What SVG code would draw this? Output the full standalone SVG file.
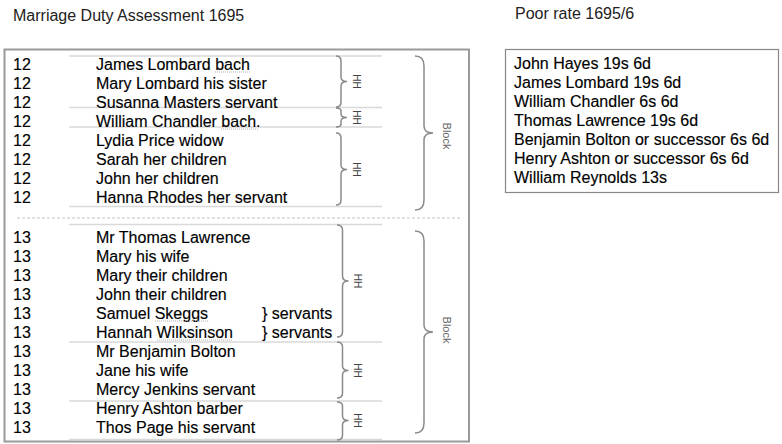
<svg xmlns="http://www.w3.org/2000/svg" width="782" height="444" viewBox="0 0 782 444">
<style>
.t{font-family:"Liberation Sans",Arial,sans-serif;font-size:16px;fill:#000;stroke:#000;stroke-width:0.15}
.ti{font-family:"Liberation Sans",Arial,sans-serif;font-size:16px;fill:#222}
.sep{stroke:#d9d9d9;stroke-width:1.5;fill:none}
.br{stroke:#8a8a8a;stroke-width:1.5;fill:none}
.hh{font-family:"Liberation Sans",Arial,sans-serif;font-size:10px;fill:#444;text-anchor:middle;dominant-baseline:central}
.bl{font-family:"Liberation Sans",Arial,sans-serif;font-size:11px;fill:#666;text-anchor:middle;dominant-baseline:central}
.sq{stroke:#b0b0b0;stroke-width:1;stroke-dasharray:1 1;fill:none}
</style>
<rect width="782" height="444" fill="#fff"/>
<g id="title-left"><text class="ti" x="13" y="20.5">Marriage Duty Assessment 1695</text></g>
<g id="title-right"><text class="ti" x="515" y="19">Poor rate 1695/6</text></g>

<g id="assessment-box">
<rect x="4.5" y="49.5" width="464.5" height="392" fill="none" stroke="#9a9a9a" stroke-width="2"/>
</g>

<g id="separators">
<path class="sep" d="M69 56H382M69 107.5H382M69 127H382M69 206.5H382M69 224.5H382M69 342H382M69 401H382M69 439.5H382"/>
<path d="M17 218H460" stroke="#c4c4c4" stroke-width="1.2" stroke-dasharray="3 2"/>
</g>

<g id="block1-rows">
<text class="t" x="13" y="69.5">12</text><text class="t" x="96" y="69.5">James Lombard bach</text>
<text class="t" x="13" y="88.5">12</text><text class="t" x="96" y="88.5">Mary Lombard his sister</text>
<text class="t" x="13" y="107.5">12</text><text class="t" x="96" y="107.5">Susanna Masters servant</text>
<text class="t" x="13" y="126.5">12</text><text class="t" x="96" y="126.5">William Chandler bach.</text>
<text class="t" x="13" y="145.5">12</text><text class="t" x="96" y="145.5">Lydia Price widow</text>
<text class="t" x="13" y="164.5">12</text><text class="t" x="96" y="164.5">Sarah her children</text>
<text class="t" x="13" y="183.5">12</text><text class="t" x="96" y="183.5">John her children</text>
<text class="t" x="13" y="202.5">12</text><text class="t" x="96" y="202.5">Hanna Rhodes her servant</text>
</g>

<g id="block2-rows">
<text class="t" x="13" y="242.5">13</text><text class="t" x="96" y="242.5">Mr Thomas Lawrence</text>
<text class="t" x="13" y="261.5">13</text><text class="t" x="96" y="261.5">Mary his wife</text>
<text class="t" x="13" y="280.5">13</text><text class="t" x="96" y="280.5">Mary their children</text>
<text class="t" x="13" y="299.5">13</text><text class="t" x="96" y="299.5">John their children</text>
<text class="t" x="13" y="318.5">13</text><text class="t" x="96" y="318.5">Samuel Skeggs</text><text class="t" x="262" y="318.5">} servants</text>
<text class="t" x="13" y="337.5">13</text><text class="t" x="96" y="337.5">Hannah Wilksinson</text><text class="t" x="262" y="337.5">} servants</text>
<text class="t" x="13" y="356.5">13</text><text class="t" x="96" y="356.5">Mr Benjamin Bolton</text>
<text class="t" x="13" y="375.5">13</text><text class="t" x="96" y="375.5">Jane his wife</text>
<text class="t" x="13" y="394.5">13</text><text class="t" x="96" y="394.5">Mercy Jenkins servant</text>
<text class="t" x="13" y="413.5">13</text><text class="t" x="96" y="413.5">Henry Ashton barber</text>
<text class="t" x="13" y="432.5">13</text><text class="t" x="96" y="432.5">Thos Page his servant</text>
</g>

<g id="spell-marks">
<path class="sq" d="M215 72H250M221 129H258M155 321H208M157 340H233"/>
</g>

<g id="connectors">
<path class="br" d="M336 56Q341 56 341 61V77Q341 81.5 347 81.5Q341 81.5 341 86V102Q341 107 336 107"/>
<path class="br" d="M336 108Q341 108 341 111V114Q341 117.5 347 117.5Q341 117.5 341 121V124Q341 127 336 127"/>
<path class="br" d="M336 133Q341 133 341 138V165Q341 169.5 347 169.5Q341 169.5 341 174V200Q341 205 336 205"/>
<path class="br" d="M337 225Q342.5 225 342.5 230V276Q342.5 281 348.5 281Q342.5 281 342.5 286V332Q342.5 337 337 337"/>
<path class="br" d="M337 342Q342.5 342 342.5 347V366Q342.5 370.5 348.5 370.5Q342.5 370.5 342.5 375V393Q342.5 398 337 398"/>
<path class="br" d="M337 402Q342.5 402 342.5 406V416Q342.5 420.5 348.5 420.5Q342.5 420.5 342.5 425V435Q342.5 440 337 440"/>
<path class="br" d="M415 56Q424 56 424 66V126Q424 133 433 133Q424 133 424 140V200Q424 210 415 210"/>
<path class="br" d="M415 231Q424 231 424 241V325Q424 332 433 332Q424 332 424 339V423Q424 433 415 433"/>
</g>

<g id="labels">
<text class="hh" transform="translate(356.5 81.5) rotate(90)">HH</text>
<text class="hh" transform="translate(356.5 117.5) rotate(90)">HH</text>
<text class="hh" transform="translate(356.5 169.5) rotate(90)">HH</text>
<text class="hh" transform="translate(357 281) rotate(90)">HH</text>
<text class="hh" transform="translate(357 370.5) rotate(90)">HH</text>
<text class="hh" transform="translate(357 420.5) rotate(90)">HH</text>
<text class="bl" transform="translate(446.5 136) rotate(90)">Block</text>
<text class="bl" transform="translate(446.5 330) rotate(90)">Block</text>
</g>

<g id="poor-rate">
<rect x="505.5" y="49.5" width="273" height="143" fill="none" stroke="#888" stroke-width="1.2"/>
<text class="t" x="514" y="69">John Hayes 19s 6d</text>
<text class="t" x="514" y="88">James Lombard 19s 6d</text>
<text class="t" x="514" y="107">William Chandler 6s 6d</text>
<text class="t" x="514" y="126">Thomas Lawrence 19s 6d</text>
<text class="t" x="514" y="145">Benjamin Bolton or successor 6s 6d</text>
<text class="t" x="514" y="164">Henry Ashton or successor 6s 6d</text>
<text class="t" x="514" y="183">William Reynolds 13s</text>
</g>
</svg>
